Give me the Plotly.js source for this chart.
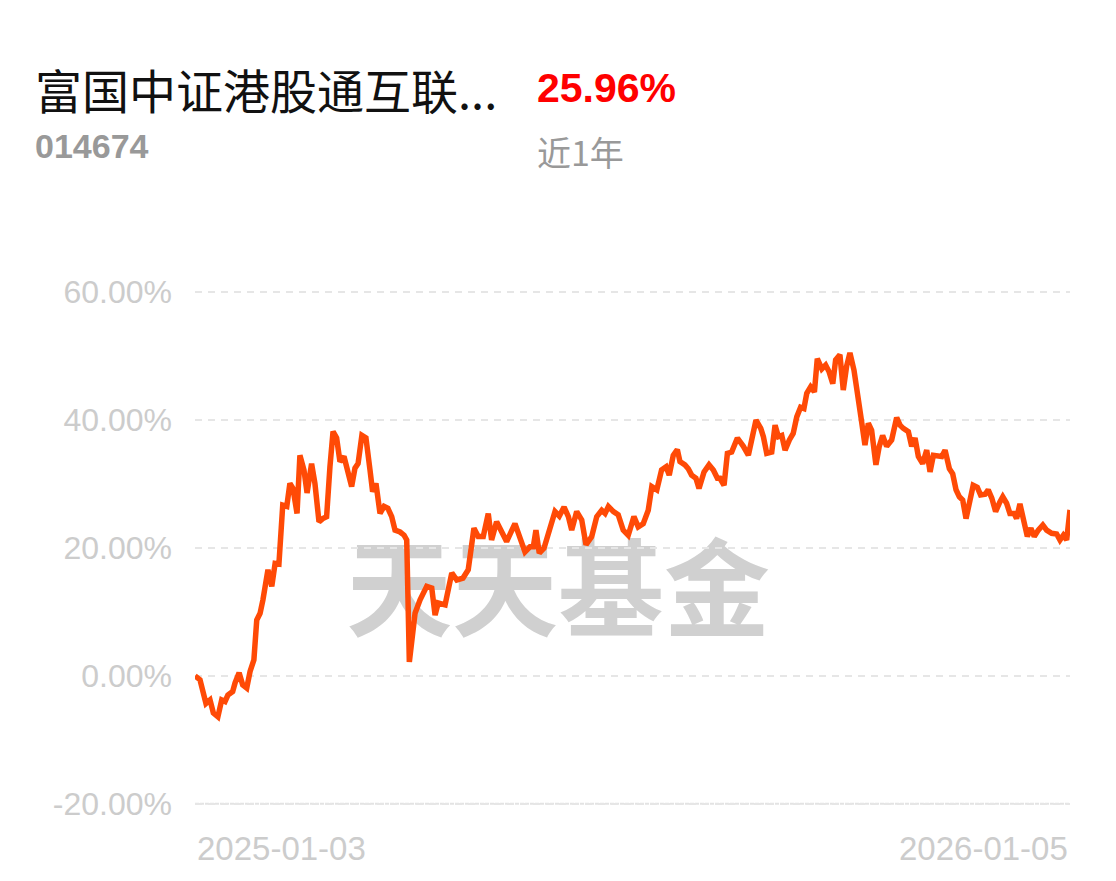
<!DOCTYPE html>
<html>
<head>
<meta charset="utf-8">
<script src="https://cdn.plot.ly/plotly-3.0.1.min.js"></script>
<style>
  html, body { margin: 0; padding: 0; background: #ffffff; }
  #chart { width: 1116px; height: 881px; }
</style>
</head>
<body>
<div id="chart"></div>
<script>
// ---- Data ----
const fundName = "富国中证港股通互联...";
const fundCode = "014674";
const periodReturn = "25.96%";
const periodLabel = "近1年";
const watermark = "天天基金";
const startDate = "2025-01-03";
const endDate = "2026-01-05";
const totalDays = 367;   // calendar days between startDate and endDate

// day offset from start date
const dayOffset = [
  0, 2.1, 4.6, 6.3, 7.7, 9.6, 11.2, 12.6, 13.8, 15.8, 16.8, 18.5, 20.0, 21.7, 23.1, 24.7,
  25.9, 27.3, 28.5, 30.6, 32.2, 33.6, 35.2, 36.8, 38.5, 39.8, 41.1, 42.8, 44.0, 45.7, 47.0,
  48.9, 50.3, 52.0, 53.6, 55.2, 56.6, 57.9, 59.4, 60.8, 62.5, 63.8, 65.7, 67.1, 68.4, 70.0,
  71.7, 73.4, 74.5, 75.9, 77.6, 79.3, 80.9, 82.5, 83.9, 86.0, 87.7, 88.8, 89.9, 92.3, 94.4,
  97.2, 99.3, 100.7, 102.0, 104.9, 107.7, 109.8, 112.4, 114.6, 117.0, 118.8, 120.9, 123.0,
  124.4, 126.5, 128.6, 130.7, 134.2, 136.3, 138.4, 140.5, 141.9, 143.0, 144.4, 146.4, 148.9,
  151.0, 152.8, 154.8, 156.6, 158.0, 160.1, 162.2, 164.0, 166.4, 168.5, 170.6, 172.0, 173.4,
  175.5, 177.5, 179.6, 181.7, 184.1, 185.9, 188.0, 190.1, 191.6, 193.7, 195.7, 197.6, 198.9,
  200.6, 202.3, 203.4, 205.5, 206.9, 208.3, 210.1, 211.4, 213.5, 215.6, 217.4, 219.1, 220.2,
  221.9, 223.3, 225.1, 227.5, 230.0, 232.1, 233.9, 235.3, 237.3, 238.4, 239.8, 241.9, 243.3,
  244.7, 246.1, 247.5, 249.3, 250.9, 252.4, 254.0, 255.4, 256.6, 258.2, 259.8, 261.0, 262.9,
  264.5, 265.9, 267.5, 268.7, 270.5, 271.9, 273.3, 274.7, 276.4, 277.8, 279.3, 281.0, 282.4,
  283.8, 285.6, 287.0, 288.4, 290.1, 292.2, 294.3, 295.7, 297.1, 299.2, 300.6, 302.0, 303.4,
  305.2, 306.9, 308.3, 309.7, 311.8, 313.2, 314.6, 316.4, 317.8, 319.2, 320.6, 322.0, 323.4,
  324.8, 326.4, 328.1, 329.5, 331.4, 332.7, 334.2, 335.8, 337.6, 338.8, 340.4, 341.8, 343.6,
  344.6, 346.0, 347.4, 349.1, 350.6, 352.0, 353.7, 355.6, 357.2, 359.3, 361.4, 362.8, 364.2,
  365.6, 367.0
];

// cumulative return, %
const returnPct = [
  0.0, -0.6, -4.3, -3.75, -5.8, -6.4, -3.75, -4.0, -3.0, -2.45, -1.1, 0.5, -1.4, -1.9, 0.7, 2.5,
  8.75, 9.8, 11.9, 16.6, 14.0, 17.6, 17.5, 26.7, 26.5, 30.1, 29.3, 25.4, 34.5, 32.2, 28.6,
  33.2, 30.1, 24.1, 24.6, 24.9, 32.7, 38.2, 37.2, 33.5, 34.3, 32.2, 29.6, 32.5, 33.2, 37.6,
  37.2, 32.2, 28.8, 30.1, 25.4, 26.5, 26.2, 24.9, 22.8, 22.5, 22.0, 21.25, 2.2, 9.8, 11.9,
  14.0, 13.75, 9.5, 11.4, 11.1, 16.1, 15.0, 15.3, 16.6, 23.1, 21.8, 21.8, 25.4,
  21.25, 24.1, 22.3, 21.0, 23.8, 21.5, 19.4, 20.2, 20.2, 22.8, 19.2, 20.0, 23.3,
  25.7, 25.0, 26.4, 24.9, 22.8, 25.7, 24.4, 20.5, 21.8, 24.9, 25.9, 25.4, 26.5,
  25.7, 25.2, 22.8, 22.0, 24.9, 23.3, 23.8, 25.9, 29.6, 29.1, 32.2, 32.7, 31.4,
  34.5, 35.4, 33.5, 33.0, 32.4, 31.4, 30.9, 29.3, 31.9, 33.0, 32.2, 30.9, 30.9,
  29.8, 34.8, 35.0, 37.2, 35.9, 34.5, 37.6, 40.0, 38.7, 37.4, 34.8, 35.0, 39.2,
  37.4, 37.6, 35.3, 36.9, 37.9, 40.5, 42.0, 41.8, 44.2, 45.2, 44.4, 49.6, 48.0,
  48.6, 47.6, 45.7, 49.4, 50.2, 44.7, 48.4, 50.5, 47.8, 43.7, 40.5, 36.1, 39.5,
  38.4, 33.0, 35.9, 37.6, 35.9, 36.9, 40.4, 39.2, 38.7, 38.2, 35.9, 37.2, 34.3,
  33.2, 35.3, 31.9, 34.5, 34.3, 34.3, 35.3, 32.4, 31.6, 29.1, 28.0, 27.5, 24.6,
  27.5, 29.8, 29.5, 28.3, 28.4, 29.1, 27.8, 25.7, 27.2, 28.0, 27.0, 25.4, 25.4,
  24.6, 26.9, 24.6, 21.8, 23.1, 21.8, 22.8, 23.6, 22.8, 22.3, 22.2, 21.25, 22.0,
  21.25, 25.96
];

const yTickVals = [-20, 0, 20, 40, 60];
const yTickText = ["-20.00%", "0.00%", "20.00%", "40.00%", "60.00%"];
const xTickText = [startDate, endDate];

// ---- Styles ----
const LINE_COLOR = "#ff4a06";
const GRID_COLOR = "#e6e6e6";
const LABEL_COLOR = "#cccccc";
const SANS = "Liberation Sans, Arial, sans-serif";
const CJK = "Noto Sans CJK SC, sans-serif";

const trace = {
  x: dayOffset,
  y: returnPct,
  type: "scatter",
  mode: "lines",
  line: { color: LINE_COLOR, width: 5.5, shape: "linear" },
  hoverinfo: "skip"
};

const layout = {
  width: 1116,
  height: 881,
  margin: { l: 195, r: 46, t: 288.8, b: 73.8 },
  paper_bgcolor: "#ffffff",
  plot_bgcolor: "#ffffff",
  showlegend: false,
  xaxis: {
    range: [0, totalDays],
    showgrid: false,
    zeroline: false,
    showline: false,
    showticklabels: false,
    ticks: ""
  },
  yaxis: {
    range: [-20.5, 60.5],
    tickvals: yTickVals,
    ticktext: yTickText,
    showgrid: true,
    gridcolor: GRID_COLOR,
    gridwidth: 2,
    griddash: "7px,6px",
    zeroline: false,
    showline: false,
    ticks: "",
    ticklabelstandoff: 22,
    tickfont: { family: SANS, size: 32, color: LABEL_COLOR }
  },
  shapes: [
    {
      type: "line", xref: "paper", yref: "y",
      x0: 0, x1: 1, y0: yTickVals[0], y1: yTickVals[0],
      line: { color: "#e3e3e3", width: 2, dash: "4px,1px" },
      layer: "below"
    },
    {
      type: "rect", xref: "paper", yref: "paper",
      x0: -0.07, x1: 0.9, y0: 0.282, y1: 0.522,
      line: { width: 0 }, fillcolor: "rgba(0,0,0,0)",
      layer: "below",
      label: {
        text: "<b>" + watermark + "</b>",
        textposition: "middle center",
        font: { family: CJK, size: 106, color: "#d0d0d0" }
      }
    }
  ],
  annotations: [
    {
      text: fundName, xref: "paper", yref: "paper",
      x: -0.1849, y: 1.3873, xanchor: "left", yanchor: "middle", showarrow: false,
      font: { family: CJK, size: 47, color: "#111111" }
    },
    {
      text: "<b>" + periodReturn + "</b>", xref: "paper", yref: "paper",
      x: 0.3889, y: 1.3873, xanchor: "left", yanchor: "middle", showarrow: false,
      font: { family: SANS, size: 41, color: "#ff0000" }
    },
    {
      text: "<b>" + fundCode + "</b>", xref: "paper", yref: "paper",
      x: -0.1849, y: 1.2755, xanchor: "left", yanchor: "middle", showarrow: false,
      font: { family: SANS, size: 34, color: "#999999" }
    },
    {
      text: periodLabel, xref: "paper", yref: "paper",
      x: 0.3889, y: 1.266, xanchor: "left", yanchor: "middle", showarrow: false,
      font: { family: CJK, size: 34, color: "#999999" }
    },
    {
      text: xTickText[0], xref: "x", yref: "paper",
      x: 0, y: 0, yshift: -41, xanchor: "left", yanchor: "middle", showarrow: false,
      font: { family: SANS, size: 33, color: LABEL_COLOR }
    },
    {
      text: xTickText[1], xref: "x", yref: "paper",
      x: totalDays, y: 0, yshift: -41, xanchor: "right", yanchor: "middle", showarrow: false,
      font: { family: SANS, size: 33, color: LABEL_COLOR }
    }
  ]
};

Plotly.newPlot("chart", [trace], layout, { displayModeBar: false, staticPlot: true });
</script>
</body>
</html>
